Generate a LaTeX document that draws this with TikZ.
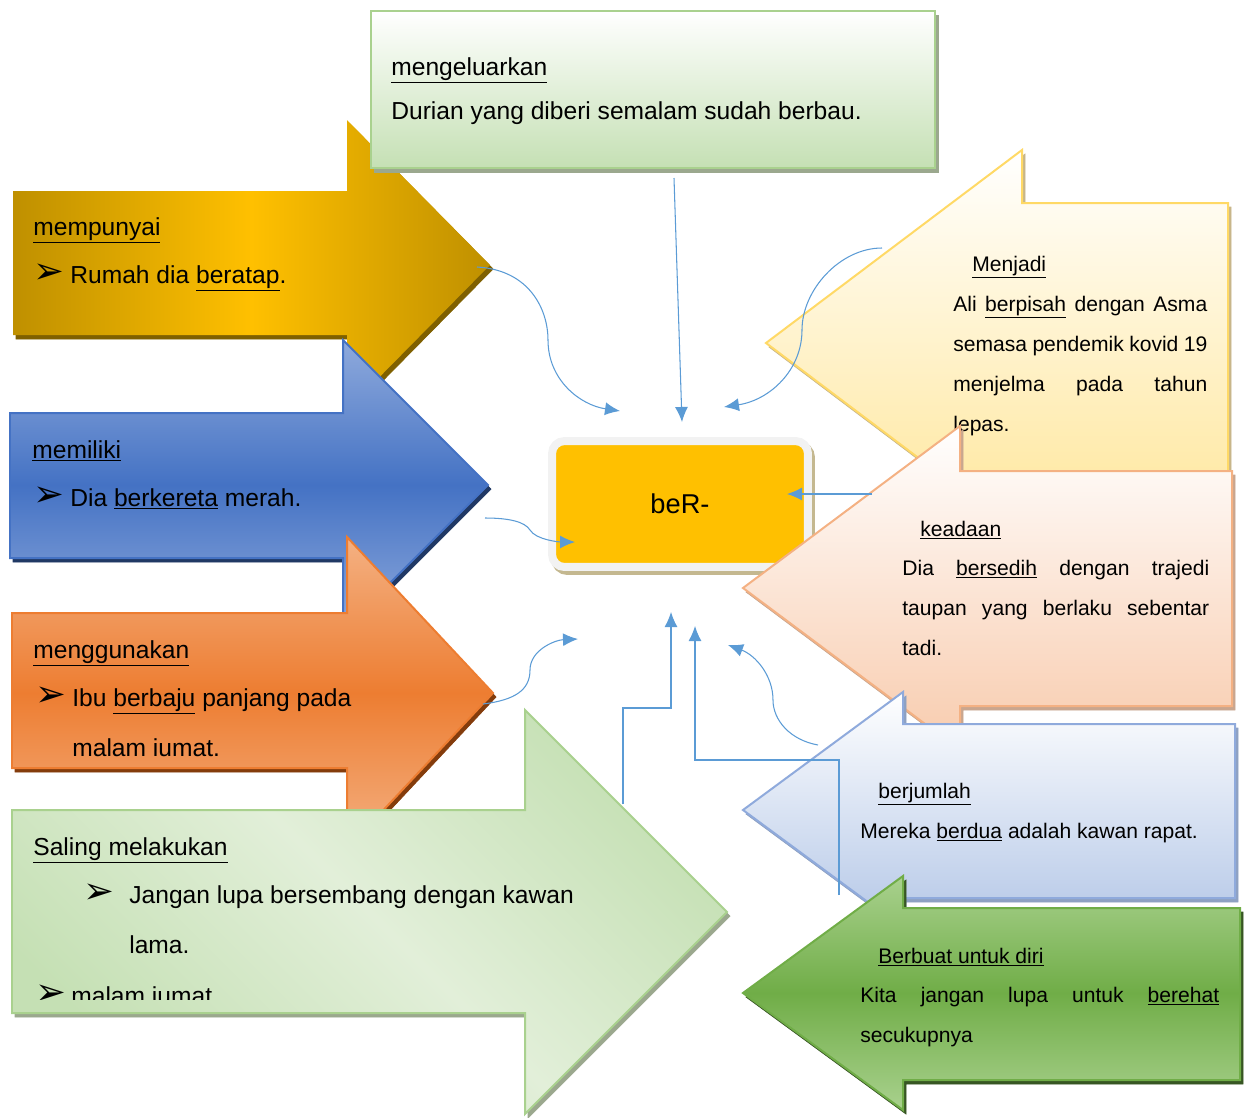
\documentclass[tikz,border=0pt]{standalone}
\usepackage{fontspec}
\setmainfont{Liberation Sans}
\newfontfamily\dingfont{DejaVu Sans}
\usetikzlibrary{arrows.meta}

\definecolor{linkblue}{HTML}{5B9BD5}
\definecolor{golddark}{HTML}{BF9000}
\definecolor{goldlight}{HTML}{FFC000}
\definecolor{goldshadow}{HTML}{7F6000}
\definecolor{bluemid}{HTML}{4472C4}
\definecolor{bluelight}{HTML}{8FAADC}
\definecolor{blueshadow}{HTML}{203864}
\definecolor{orangemid}{HTML}{ED7D31}
\definecolor{orangelight}{HTML}{F4B183}
\definecolor{orangeshadow}{HTML}{843C0C}
\definecolor{greenpale}{HTML}{E2EFD9}
\definecolor{greenlight}{HTML}{C5E0B4}
\definecolor{greenline}{HTML}{A9D18E}
\definecolor{greenshadow}{HTML}{9BA88E}
\definecolor{greenmid}{HTML}{70AD47}
\definecolor{greendark}{HTML}{375623}
\definecolor{yellowlight}{HTML}{FFE699}
\definecolor{yellowline}{HTML}{FFD966}
\definecolor{yellowshadow}{HTML}{C8B68A}
\definecolor{peachlight}{HTML}{F8CBAD}
\definecolor{peachshadow}{HTML}{C9A68F}
\definecolor{skylight}{HTML}{B4C7E7}
\definecolor{skyshadow}{HTML}{8EA1C2}
\definecolor{boxgrey}{HTML}{F2F2F2}
\definecolor{boxshadow}{HTML}{C4B890}

\begin{document}
\begin{tikzpicture}[x = 0.02cm, y = -0.02cm,
	> = {Latex[length = 0.3cm, width = 0.26cm]},
	shadowed/.style = {preaction = {draw = #1, fill = #1, transform canvas = {shift = {(3, 4)}}}},
	border/.style = {draw = #1, line width = 0.04cm},
	lefttxt/.style = {anchor = base west, inner sep = 0, font = \fontsize{14}{16}\selectfont},
	righttxt/.style = {anchor = base west, inner sep = 0, font = \fontsize{12}{14}\selectfont},
	bullet/.style = {anchor = base west, inner sep = 0, font = \dingfont\fontsize{21}{22}\selectfont},
	link/.style = {draw = linkblue, line width = 0.6pt, ->}]

	\useasboundingbox (0, 0) rectangle (1249, 1117);

	% mempunyai arrow

	\shade [left color = golddark, right color = golddark, middle color = goldlight, shadowed = goldshadow]
		(13, 191) -- (347, 191) -- (347, 120) -- (490, 265) -- (347, 410) -- (347, 335) -- (13, 335) -- cycle;
	\node (mempunyai) [lefttxt] at (33, 235) {\underline{mempunyai}};
	\node (mempunyai-b) [bullet] at (33, 283) {➢};
	\node (mempunyai-e) [lefttxt] at (70, 283) {Rumah dia \underline{beratap}.};

	% mengeluarkan box

	\shade [top color = white, bottom color = greenlight, border = greenline, shadowed = greenshadow]
		(371, 11) rectangle (935, 168);
	\node (mengeluarkan) [lefttxt] at (391, 75) {\underline{mengeluarkan}};
	\node (mengeluarkan-e) [lefttxt] at (391, 119) {Durian yang diberi semalam sudah berbau.};

	% memiliki arrow

	\shade [top color = bluelight, bottom color = bluelight, middle color = bluemid, border = bluemid, shadowed = blueshadow]
		(10, 413) -- (343, 413) -- (343, 340) -- (488, 485) -- (343, 630) -- (343, 558) -- (10, 558) -- cycle;
	\node (memiliki) [lefttxt] at (32, 458) {\underline{memiliki}};
	\node (memiliki-b) [bullet] at (33, 506) {➢};
	\node (memiliki-e) [lefttxt] at (70, 506) {Dia \underline{berkereta} merah.};

	% menggunakan arrow

	\shade [top color = orangelight, bottom color = orangelight, middle color = orangemid, border = orangemid, shadowed = orangeshadow]
		(12, 613) -- (347, 613) -- (347, 537) -- (493, 693) -- (347, 849) -- (347, 768) -- (12, 768) -- cycle;
	\node (menggunakan) [lefttxt] at (33, 658) {\underline{menggunakan}};
	\node (menggunakan-b) [bullet] at (35, 706) {➢};
	\node (menggunakan-e) [lefttxt] at (72, 706) {Ibu \underline{berbaju} panjang pada};
	\node (menggunakan-f) [lefttxt] at (72, 756) {malam iumat.};

	% saling melakukan arrow

	\shade [top color = greenlight, bottom color = greenlight, middle color = greenpale, shading angle = -45, border = greenline, shadowed = greenshadow]
		(12, 810) -- (525, 810) -- (525, 710) -- (727, 912) -- (525, 1114) -- (525, 1013) -- (12, 1013) -- cycle;
	\node (saling) [lefttxt] at (33, 855) {\underline{Saling melakukan}};
	\node (saling-b) [bullet] at (83, 903) {➢};
	\node (saling-e) [lefttxt] at (129, 903) {Jangan lupa bersembang dengan kawan};
	\node (saling-f) [lefttxt] at (129, 953) {lama.};
	\begin{scope}
		\clip (12, 960) rectangle (525, 999);
		\node (saling-c) [bullet] at (35, 1004) {➢};
		\node (saling-g) [lefttxt] at (71, 1004) {malam iumat};
	\end{scope}

	% menjadi arrow

	\shade [top color = white, bottom color = yellowlight, border = yellowline, shadowed = yellowshadow]
		(1228, 203) -- (1022, 203) -- (1022, 150) -- (766, 343) -- (1022, 536) -- (1022, 481) -- (1228, 481) -- cycle;
	\node (menjadi) [righttxt] at (972, 271) {\underline{Menjadi}};
	\node (menjadi-e) [righttxt] at (953, 311) {\makebox[5.08cm][s]{Ali \underline{berpisah} dengan Asma}};
	\node (menjadi-f) [righttxt] at (953, 351) {\makebox[5.08cm][s]{semasa pendemik kovid 19}};
	\node (menjadi-g) [righttxt] at (953, 391) {\makebox[5.08cm][s]{menjelma pada tahun}};
	\node (menjadi-h) [righttxt] at (953, 431) {lepas.};

	% beR- box

	\node (ber) [fill = goldlight, draw = boxgrey, line width = 0.16cm, rounded corners = 0.25cm,
		minimum width = 5.12cm, minimum height = 2.52cm, font = \fontsize{15.5}{18}\selectfont,
		shadowed = boxshadow] at (680, 504) {beR-};

	% keadaan arrow

	\shade [top color = white, bottom color = peachlight, border = orangelight, shadowed = peachshadow]
		(1232, 471) -- (960, 471) -- (960, 426) -- (743, 588) -- (960, 750) -- (960, 706) -- (1232, 706) -- cycle;
	\node (keadaan) [righttxt] at (920, 536) {\underline{keadaan}};
	\node (keadaan-e) [righttxt] at (902, 575) {\makebox[6.14cm][s]{Dia \underline{bersedih} dengan trajedi}};
	\node (keadaan-f) [righttxt] at (902, 615) {\makebox[6.14cm][s]{taupan yang berlaku sebentar}};
	\node (keadaan-g) [righttxt] at (902, 655) {tadi.};

	% berjumlah arrow

	\shade [top color = white, bottom color = skylight, border = bluelight, shadowed = skyshadow]
		(1235, 724) -- (903, 724) -- (903, 692) -- (743, 810) -- (903, 928) -- (903, 898) -- (1235, 898) -- cycle;
	\node (berjumlah) [righttxt] at (878, 798) {\underline{berjumlah}};
	\node (berjumlah-e) [righttxt] at (860, 838) {Mereka \underline{berdua} adalah kawan rapat.};

	% berbuat arrow

	\shade [top color = greenline, bottom color = greenline, middle color = greenmid, border = greenmid, shadowed = greendark]
		(1240, 908) -- (903, 908) -- (903, 876) -- (743, 993) -- (903, 1110) -- (903, 1080) -- (1240, 1080) -- cycle;
	\node (berbuat) [righttxt] at (878, 963) {\underline{Berbuat untuk diri}};
	\node (berbuat-e) [righttxt] at (860, 1002) {\makebox[7.18cm][s]{Kita jangan lupa untuk \underline{berehat}}};
	\node (berbuat-f) [righttxt] at (860, 1042) {secukupnya};

	% Link ends

	\coordinate (mempunyai-o) at (477, 267);
	\coordinate (mempunyai-i) at (620, 411);
	\coordinate (mengeluarkan-o) at (674, 178);
	\coordinate (mengeluarkan-i) at (682, 422);
	\coordinate (menjadi-o) at (882, 248);
	\coordinate (menjadi-i) at (724, 407);
	\coordinate (keadaan-o) at (872, 494);
	\coordinate (keadaan-i) at (787, 494);
	\coordinate (memiliki-o) at (485, 518);
	\coordinate (memiliki-i) at (575, 542);
	\coordinate (menggunakan-o) at (483, 704);
	\coordinate (menggunakan-i) at (578, 639);
	\coordinate (saling-o) at (623, 804);
	\coordinate (saling-i) at (671, 612);
	\coordinate (berjumlah-o) at (839, 895);
	\coordinate (berjumlah-i) at (695, 626);
	\coordinate (berbuat-o) at (818, 745);
	\coordinate (berbuat-i) at (728, 645);

	% Links to beR-

	\draw [link] (mempunyai-o) .. controls (530, 270) and (548, 310) .. (548, 340) .. controls (548, 380) and (580, 405) .. (mempunyai-i);
	\draw [link] (mengeluarkan-o) -- (mengeluarkan-i);
	\draw [link] (menjadi-o) .. controls (840, 248) and (802, 290) .. (802, 330) .. controls (802, 370) and (770, 400) .. (menjadi-i);
	\draw [link] (keadaan-o) -- (keadaan-i);
	\draw [link] (memiliki-o) .. controls (510, 518) and (525, 522) .. (530, 530) .. controls (536, 540) and (560, 542) .. (memiliki-i);
	\draw [link] (menggunakan-o) .. controls (515, 700) and (530, 690) .. (530, 670) .. controls (530, 650) and (555, 640) .. (menggunakan-i);
	\draw [link] (saling-o) -- (saling-o |- 0, 708) -| (saling-i);
	\draw [link] (berjumlah-o) -- (berjumlah-o |- 0, 760) -| (berjumlah-i);
	\draw [link] (berbuat-o) .. controls (790, 740) and (773, 720) .. (773, 700) .. controls (773, 675) and (755, 655) .. (berbuat-i);

\end{tikzpicture}
\end{document}
